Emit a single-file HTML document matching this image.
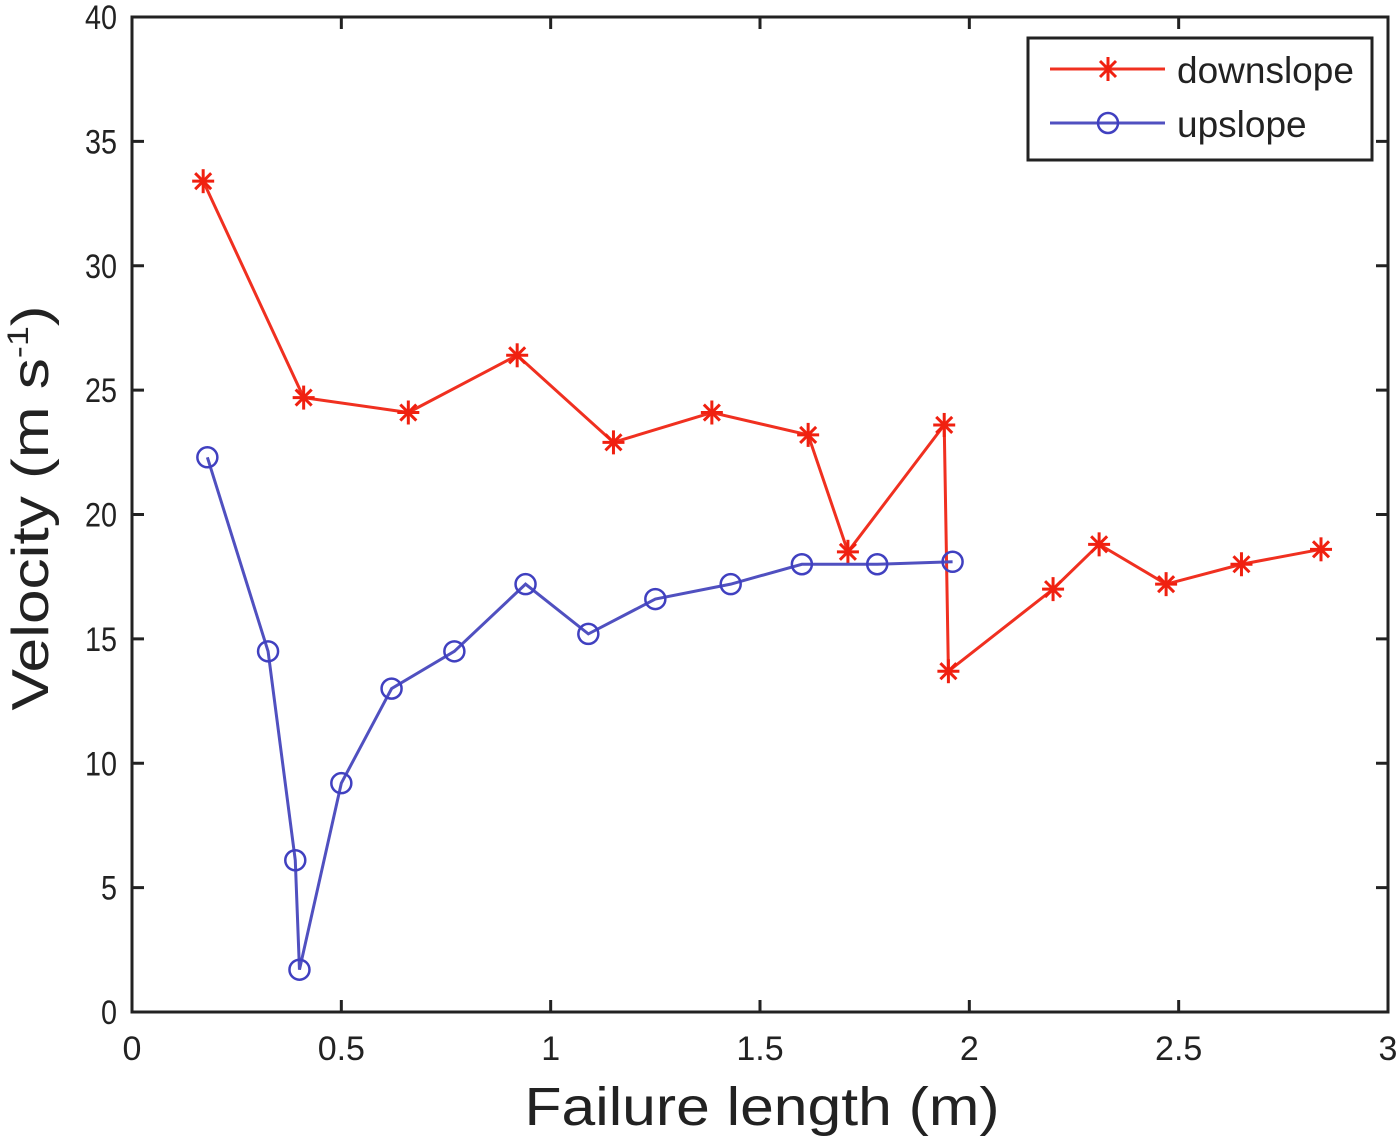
<!DOCTYPE html>
<html><head><meta charset="utf-8"><style>
body{margin:0;background:#fff}
svg{display:block;font-family:"Liberation Sans",sans-serif}
</style></head><body>
<svg id="chart" width="1400" height="1140" viewBox="0 0 1400 1140" xmlns="http://www.w3.org/2000/svg">
<rect x="0" y="0" width="1400" height="1140" fill="#fff"/>
<g id="axes"></g>
<g id="series"></g>
<g>
<rect x="1028" y="38" width="344" height="122" fill="#fff" stroke="#222" stroke-width="3"/>
<line x1="1050" y1="69" x2="1165" y2="69" stroke="#f03020" stroke-width="3"/>
<g stroke="#f02010" stroke-width="3">
<line x1="1108" y1="57" x2="1108" y2="81"/><line x1="1100" y1="61" x2="1116" y2="77"/><line x1="1100" y1="77" x2="1116" y2="61"/>
</g>
<text x="1177" y="83" font-size="37" fill="#222">downslope</text>
<line x1="1050" y1="123" x2="1165" y2="123" stroke="#5050c0" stroke-width="3"/>
<circle cx="1108" cy="123" r="10" fill="none" stroke="#4040c0" stroke-width="2.5"/>
<text x="1177" y="137" font-size="37" fill="#222">upslope</text>
</g>
<text x="762" y="1125" font-size="54" fill="#222" text-anchor="middle" textLength="475" lengthAdjust="spacingAndGlyphs">Failure length (m)</text>
<text transform="translate(48,508) rotate(-90)" font-size="52" fill="#222" text-anchor="middle" textLength="405" lengthAdjust="spacingAndGlyphs">Velocity (m s<tspan font-size="30" dy="-20">-1</tspan><tspan dy="20">)</tspan></text>
</svg>
<script>
const xTicks=[0,0.5,1,1.5,2,2.5,3];
const xTickLabels=["0","0.5","1","1.5","2","2.5","3"];
const yTicks=[0,5,10,15,20,25,30,35,40];
const yTickLabels=["0","5","10","15","20","25","30","35","40"];
const downX=[0.17,0.41,0.66,0.92,1.15,1.385,1.615,1.71,1.94,1.95,2.20,2.31,2.47,2.65,2.84];
const downY=[33.4,24.7,24.1,26.4,22.9,24.1,23.2,18.5,23.6,13.7,17.0,18.8,17.2,18.0,18.6];
const upX=[0.18,0.325,0.39,0.40,0.50,0.62,0.77,0.94,1.09,1.25,1.43,1.60,1.78,1.96];
const upY=[22.3,14.5,6.1,1.7,9.2,13.0,14.5,17.2,15.2,16.6,17.2,18.0,18.0,18.1];
const L=132,R=1388,T=17,B=1012;
const sx=v=>L+(v-0)/3*(R-L);
const sy=v=>B-(v-0)/40*(B-T);
const NS="http://www.w3.org/2000/svg";
function mk(tag,attrs,parent){const e=document.createElementNS(NS,tag);for(const k in attrs)e.setAttribute(k,attrs[k]);parent.appendChild(e);return e;}
const ax=document.getElementById('axes');
const frame=mk('rect',{x:L,y:T,width:R-L,height:B-T,fill:'none',stroke:'#222','stroke-width':3},ax);


xTicks.forEach((t,i)=>{
 const x=sx(t);
 const a=mk('line',{x1:x,y1:B,x2:x,y2:B-12,stroke:'#222','stroke-width':3},ax);
 
 
 const b=mk('line',{x1:x,y1:T,x2:x,y2:T+12,stroke:'#222','stroke-width':3},ax);
 
 
 const tx=mk('text',{x:x,y:B+48,'font-size':34,fill:'#222','text-anchor':'middle'},ax);
 tx.textContent=xTickLabels[i];
 
 
});
yTicks.forEach((t,i)=>{
 const y=sy(t);
 const a=mk('line',{x1:L,y1:y,x2:L+12,y2:y,stroke:'#222','stroke-width':3},ax);
 
 
 const b=mk('line',{x1:R,y1:y,x2:R-12,y2:y,stroke:'#222','stroke-width':3},ax);
 
 
 const tx=mk('text',{x:117,y:y+12,'font-size':34,fill:'#222','text-anchor':'end',textLength:yTickLabels[i].length*16,lengthAdjust:'spacingAndGlyphs'},ax);
 tx.textContent=yTickLabels[i];
 
 
});
const sg=document.getElementById('series');
const dp=mk('polyline',{points:downX.map((x,i)=>sx(x)+','+sy(downY[i])).join(' '),fill:'none',stroke:'#f03020','stroke-width':3},sg);


downX.forEach((x,i)=>{
 const cx=sx(x),cy=sy(downY[i]);
 const g=mk('g',{stroke:'#f02010','stroke-width':3},sg);
 
 
 mk('line',{x1:cx-11,y1:cy,x2:cx+11,y2:cy},g);
 mk('line',{x1:cx,y1:cy-12,x2:cx,y2:cy+12},g);
 mk('line',{x1:cx-8,y1:cy-8,x2:cx+8,y2:cy+8},g);
 mk('line',{x1:cx-8,y1:cy+8,x2:cx+8,y2:cy-8},g);
});
const up=mk('polyline',{points:upX.map((x,i)=>sx(x)+','+sy(upY[i])).join(' '),fill:'none',stroke:'#5050c0','stroke-width':3},sg);


upX.forEach((x,i)=>{
 const c=mk('circle',{cx:sx(x),cy:sy(upY[i]),r:10,fill:'none',stroke:'#4040c0','stroke-width':2.5},sg);
 
 
});
</script>
</body></html>
